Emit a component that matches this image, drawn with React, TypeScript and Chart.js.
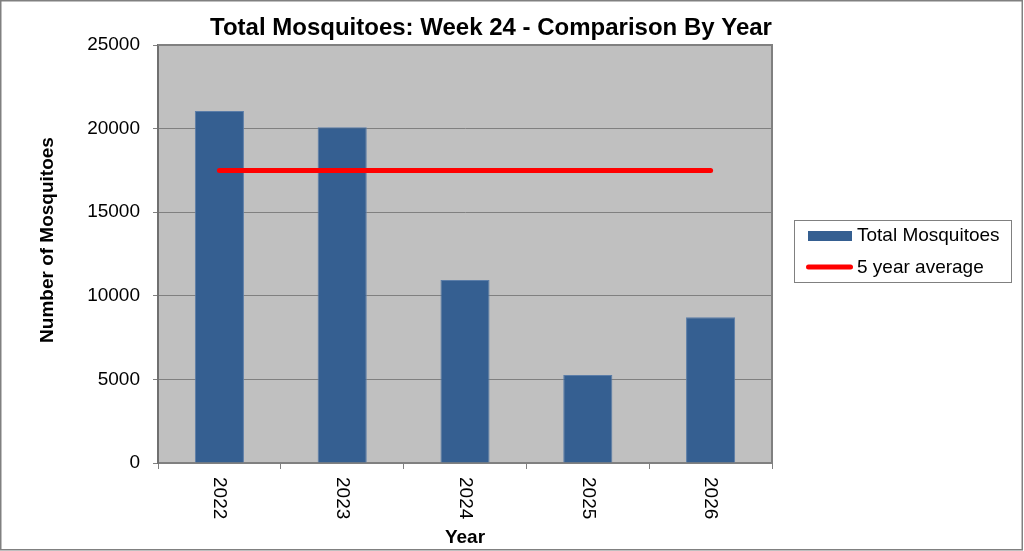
import React, { useEffect, useRef } from "react";
import { Chart, registerables } from "chart.js";

Chart.register(...registerables);

const years = ["2022", "2023", "2024", "2025", "2026"];
const totalMosquitoes = [21050, 20080, 10950, 5260, 8710];
const fiveYearAverage = [17500, 17500, 17500, 17500, 17500];
const yMin = 0;
const yMax = 25000;
const yStep = 5000;
const titleText = "Total Mosquitoes: Week 24 - Comparison By Year";
const xTitleText = "Year";
const yTitleText = "Number of Mosquitoes";
const seriesNames = ["Total Mosquitoes", "5 year average"];

const FONT = "'Liberation Sans', Arial, sans-serif";
const BAR_COLOR = "#355F91";
const BAR_BORDER = "#5B7DA8";
const LINE_COLOR = "#FF0000";
const PLOT_BG = "#C0C0C0";
const AXIS_GRAY = "#808080";

const decorPlugin = {
  id: "decor",
  beforeDraw(chart: any) {
    const { ctx, chartArea } = chart;
    ctx.save();
    ctx.fillStyle = "#FFFFFF";
    ctx.fillRect(0, 0, chart.width, chart.height);
    ctx.fillStyle = PLOT_BG;
    ctx.fillRect(chartArea.left, chartArea.top, chartArea.right - chartArea.left, chartArea.bottom - chartArea.top);
    ctx.restore();
  },
  afterDraw(chart: any) {
    const { ctx, chartArea } = chart;
    const xScale = chart.scales.x;
    ctx.save();
    // plot area top/right border
    ctx.strokeStyle = AXIS_GRAY;
    ctx.lineWidth = 2;
    ctx.beginPath();
    ctx.moveTo(chartArea.left, chartArea.top);
    ctx.lineTo(chartArea.right, chartArea.top);
    ctx.lineTo(chartArea.right, chartArea.bottom);
    ctx.stroke();

    // outer border
    ctx.lineWidth = 1.5;
    ctx.strokeStyle = AXIS_GRAY;
    ctx.strokeRect(0.75, 0.75, 1021.5, 549);

    // title
    ctx.fillStyle = "#000000";
    ctx.font = `bold 24px ${FONT}`;
    ctx.textAlign = "center";
    ctx.textBaseline = "alphabetic";
    ctx.fillText(titleText, 491, 35);

    // x tick labels (rotated clockwise)
    ctx.font = `19px ${FONT}`;
    years.forEach((label, i) => {
      const x = xScale.getPixelForTick(i);
      ctx.save();
      ctx.translate(x, 477);
      ctx.rotate(Math.PI / 2);
      ctx.textAlign = "left";
      ctx.textBaseline = "middle";
      ctx.fillText(label, 0, 0);
      ctx.restore();
    });

    // x title
    ctx.font = `bold 19px ${FONT}`;
    ctx.textAlign = "center";
    ctx.textBaseline = "alphabetic";
    ctx.fillText(xTitleText, (chartArea.left + chartArea.right) / 2, 543);

    // y title
    ctx.save();
    ctx.translate(53, 240);
    ctx.rotate(-Math.PI / 2);
    ctx.textAlign = "center";
    ctx.textBaseline = "alphabetic";
    ctx.fillText(yTitleText, 0, 0);
    ctx.restore();

    // legend
    ctx.fillStyle = "#FFFFFF";
    ctx.fillRect(794, 220, 217, 62);
    ctx.strokeStyle = AXIS_GRAY;
    ctx.lineWidth = 1;
    ctx.strokeRect(794.5, 220.5, 217, 62);
    ctx.fillStyle = BAR_COLOR;
    ctx.fillRect(808, 231, 44, 10);
    ctx.strokeStyle = LINE_COLOR;
    ctx.lineWidth = 5;
    ctx.lineCap = "round";
    ctx.beginPath();
    ctx.moveTo(808.5, 267);
    ctx.lineTo(850.5, 267);
    ctx.stroke();
    ctx.fillStyle = "#000000";
    ctx.font = `19px ${FONT}`;
    ctx.textAlign = "left";
    ctx.textBaseline = "alphabetic";
    ctx.fillText(seriesNames[0], 857, 241);
    ctx.fillText(seriesNames[1], 857, 273);
    ctx.restore();
  },
};

export default function App() {
  const canvasRef = useRef<HTMLCanvasElement | null>(null);

  useEffect(() => {
    if (!canvasRef.current) return;
    const chart = new Chart(canvasRef.current, {
      type: "bar",
      data: {
        labels: years,
        datasets: [
          {
            type: "line",
            label: seriesNames[1],
            data: fiveYearAverage,
            borderColor: LINE_COLOR,
            backgroundColor: LINE_COLOR,
            borderWidth: 5,
            borderCapStyle: "round",
            pointRadius: 0,
            pointHoverRadius: 0,
            fill: false,
            order: 0,
          } as any,
          {
            type: "bar",
            label: seriesNames[0],
            data: totalMosquitoes,
            backgroundColor: BAR_COLOR,
            borderColor: BAR_BORDER,
            borderWidth: 1,
            barPercentage: 0.4,
            categoryPercentage: 1,
            order: 1,
          } as any,
        ],
      },
      options: {
        responsive: false,
        animation: false,
        events: [],
        layout: { padding: { top: 45, right: 252, bottom: 0, left: 0 } },
        plugins: {
          legend: { display: false },
          title: { display: false },
          tooltip: { enabled: false },
        },
        scales: {
          x: {
            type: "category",
            offset: true,
            grid: {
              display: true,
              drawOnChartArea: false,
              drawTicks: true,
              tickLength: 6,
              color: AXIS_GRAY,
              offset: true,
            },
            border: { display: true, color: AXIS_GRAY, width: 2 },
            ticks: { display: false },
            afterFit: (scale: any) => {
              scale.height = 88;
            },
          },
          y: {
            min: yMin,
            max: yMax,
            grid: {
              color: AXIS_GRAY,
              lineWidth: 1,
              tickLength: 5,
              drawTicks: true,
            },
            border: { display: true, color: "#707070", width: 2 },
            ticks: {
              stepSize: yStep,
              color: "#000000",
              padding: 13,
              font: { family: FONT, size: 19 },
              callback: (value: any) => String(value),
            },
            afterFit: (scale: any) => {
              scale.width = 158;
            },
          },
        },
      },
      plugins: [decorPlugin],
    });
    return () => chart.destroy();
  }, []);

  return (
    <div style={{ position: "absolute", left: 0, top: 0, width: 1024, height: 551 }}>
      <canvas ref={canvasRef} width={1024} height={551} style={{ display: "block" }} />
    </div>
  );
}
